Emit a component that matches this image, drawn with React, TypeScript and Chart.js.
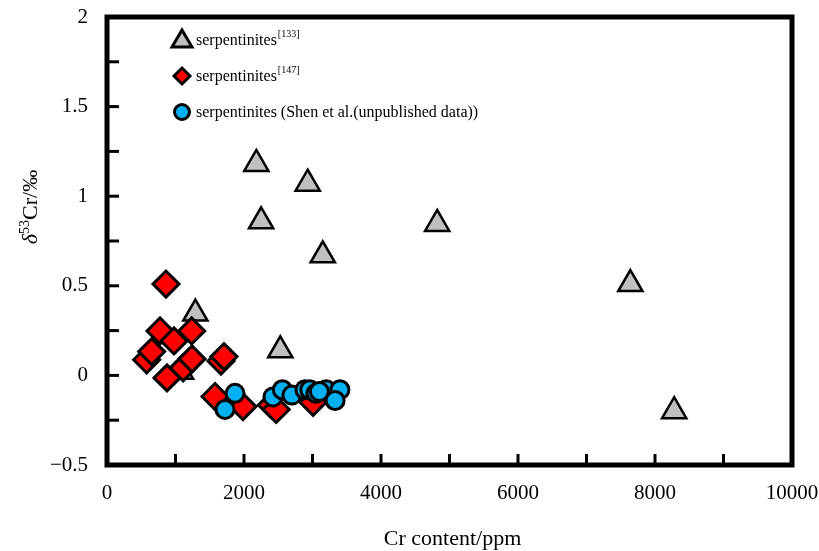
import React, { useEffect, useRef } from 'react';
import { Chart, registerables } from 'chart.js';

Chart.register(...registerables);

// ---- data ----
const triangleX = [1080, 2180, 2930, 2250, 3150, 4820, 7640, 8280, 2530, 1290];
const triangleY = [0.02, 1.18, 1.07, 0.86, 0.67, 0.845, 0.51, -0.2, 0.14, 0.345];

const diamondX = [861, 774, 1236, 978, 579, 652, 1112, 876, 1241, 1664, 1708, 1577, 1985, 2400, 2470, 3008];
const diamondY = [0.51, 0.248, 0.248, 0.192, 0.087, 0.133, 0.042, -0.014, 0.092, 0.08, 0.105, -0.118, -0.174, -0.165, -0.19, -0.15];

const circleX = [1869, 1723, 2423, 2560, 2700, 2890, 2960, 3050, 3200, 3400, 3330, 3100];
const circleY = [-0.1, -0.19, -0.12, -0.08, -0.11, -0.08, -0.08, -0.1, -0.08, -0.08, -0.14, -0.09];

const xTickValues = [0, 2000, 4000, 6000, 8000, 10000];
const xTickLabels = ['0', '2000', '4000', '6000', '8000', '10000'];
const yTickValues = [-0.5, 0, 0.5, 1, 1.5, 2];
const yTickLabels = ['\u22120.5', '0', '0.5', '1', '1.5', '2'];

const legendLabels = ['serpentinites', 'serpentinites', 'serpentinites (Shen et al.(unpublished data))'];
const legendSups = ['[133]', '[147]', ''];

const xTitle = 'Cr content/ppm';

const FONT = '"Liberation Serif", "Times New Roman", serif';

const pts = (xs: number[], ys: number[]) => xs.map((x, i) => ({ x, y: ys[i] }));

const decorPlugin = {
  id: 'decor',
  afterDraw(chart: any) {
    const ctx = chart.ctx as CanvasRenderingContext2D;
    const a = chart.chartArea;
    const xs = chart.scales.x;
    const ys = chart.scales.y;
    ctx.save();
    ctx.strokeStyle = '#000';
    // inner ticks
    ctx.lineWidth = 3;
    ctx.lineCap = 'butt';
    xs.ticks.forEach((t: any) => {
      const px = xs.getPixelForValue(t.value);
      if (px <= a.left + 1 || px >= a.right - 1) return;
      ctx.beginPath();
      ctx.moveTo(px, a.bottom);
      ctx.lineTo(px, a.bottom - 11);
      ctx.stroke();
    });
    ys.ticks.forEach((t: any) => {
      const py = ys.getPixelForValue(t.value);
      if (py <= a.top + 1 || py >= a.bottom - 1) return;
      ctx.beginPath();
      ctx.moveTo(a.left, py);
      ctx.lineTo(a.left + 12, py);
      ctx.stroke();
    });
    // frame
    ctx.lineWidth = 5;
    ctx.lineJoin = 'miter';
    ctx.strokeRect(a.left, a.top, a.right - a.left, a.bottom - a.top);

    // x title
    ctx.fillStyle = '#000';
    ctx.font = `22px ${FONT}`;
    ctx.textAlign = 'center';
    ctx.textBaseline = 'alphabetic';
    ctx.fillText(xTitle, (a.left + a.right) / 2 + 3, 545);

    // y title (rotated)
    ctx.save();
    ctx.translate(37, 207);
    ctx.rotate(-Math.PI / 2);
    ctx.textAlign = 'left';
    const fDelta = `italic 22px ${FONT}`;
    const fSup = `14px ${FONT}`;
    const fMain = `22px ${FONT}`;
    ctx.font = fDelta;
    const w1 = ctx.measureText('\u03B4').width;
    ctx.font = fSup;
    const w2 = ctx.measureText('53').width;
    ctx.font = fMain;
    const w3 = ctx.measureText('Cr/\u2030').width;
    let sx = -(w1 + w2 + w3) / 2;
    ctx.font = fDelta;
    ctx.fillText('\u03B4', sx, 0);
    sx += w1;
    ctx.font = fSup;
    ctx.fillText('53', sx, -8);
    sx += w2;
    ctx.font = fMain;
    ctx.fillText('Cr/\u2030', sx, 0);
    ctx.restore();

    // legend
    const rows = [40, 76, 112];
    const mx = 182;
    ctx.lineWidth = 3;
    // triangle
    {
      const y = rows[0];
      ctx.beginPath();
      ctx.moveTo(mx, y - 10);
      ctx.lineTo(mx + 10, y + 7);
      ctx.lineTo(mx - 10, y + 7);
      ctx.closePath();
      ctx.fillStyle = '#c0c0c0';
      ctx.fill();
      ctx.stroke();
    }
    // diamond
    {
      const y = rows[1];
      ctx.beginPath();
      ctx.moveTo(mx, y - 8);
      ctx.lineTo(mx + 8, y);
      ctx.lineTo(mx, y + 8);
      ctx.lineTo(mx - 8, y);
      ctx.closePath();
      ctx.fillStyle = '#ff0000';
      ctx.fill();
      ctx.stroke();
    }
    // circle
    {
      const y = rows[2];
      ctx.beginPath();
      ctx.arc(mx, y, 7.5, 0, Math.PI * 2);
      ctx.fillStyle = '#00b0f0';
      ctx.fill();
      ctx.stroke();
    }
    ctx.fillStyle = '#000';
    ctx.textAlign = 'left';
    ctx.textBaseline = 'alphabetic';
    legendLabels.forEach((lab, i) => {
      const base = rows[i] + 5;
      ctx.font = `16px ${FONT}`;
      ctx.fillText(lab, 196, base);
      const w = ctx.measureText(lab).width;
      if (legendSups[i]) {
        ctx.font = `10px ${FONT}`;
        ctx.fillText(legendSups[i], 196 + w + 1, base - 8);
      }
    });
    ctx.restore();
  },
};

export default function App() {
  const ref = useRef<HTMLCanvasElement | null>(null);
  useEffect(() => {
    if (!ref.current) return;
    const chart = new Chart(ref.current, {
      type: 'scatter',
      data: {
        datasets: [
          {
            label: 'serpentinites (Shen et al.(unpublished data))',
            data: pts(circleX, circleY),
            pointStyle: 'circle',
            pointRadius: 9,
            pointBackgroundColor: '#00b0f0',
            pointBorderColor: '#000',
            pointBorderWidth: 3,
            order: 1,
          },
          {
            label: 'serpentinites[147]',
            data: pts(diamondX, diamondY),
            pointStyle: 'rectRot',
            pointRadius: 13,
            pointBackgroundColor: '#ff0000',
            pointBorderColor: '#000',
            pointBorderWidth: 3,
            order: 2,
          },
          {
            label: 'serpentinites[133]',
            data: pts(triangleX, triangleY),
            pointStyle: 'triangle',
            pointRadius: 14,
            pointBackgroundColor: '#c0c0c0',
            pointBorderColor: '#000',
            pointBorderWidth: 2.5,
            order: 3,
          },
        ],
      },
      options: {
        animation: false,
        responsive: false,
        devicePixelRatio: 1,
        layout: { padding: { left: 0, top: 17, right: 27, bottom: 0 } },
        plugins: { legend: { display: false }, tooltip: { enabled: false } },
        scales: {
          x: {
            type: 'linear',
            min: 0,
            max: 10000,
            grid: { display: false, drawTicks: false },
            border: { display: false },
            ticks: {
              stepSize: 1000,
              autoSkip: false,
              maxRotation: 0,
              padding: 16,
              color: '#000',
              font: { family: FONT, size: 21 },
              callback: (v: any) => {
                const i = xTickValues.indexOf(Number(v));
                return i >= 0 ? xTickLabels[i] : '';
              },
            },
            afterFit: (s: any) => {
              s.height = 86;
              s.paddingLeft = 0;
              s.paddingRight = 0;
            },
          },
          y: {
            type: 'linear',
            min: -0.5,
            max: 2,
            grid: { display: false, drawTicks: false },
            border: { display: false },
            ticks: {
              stepSize: 0.25,
              autoSkip: false,
              padding: 19,
              color: '#000',
              font: { family: FONT, size: 21 },
              callback: (v: any) => {
                const n = Math.round(Number(v) * 100) / 100;
                const i = yTickValues.indexOf(n);
                return i >= 0 ? yTickLabels[i] : '';
              },
            },
            afterFit: (s: any) => {
              s.width = 107;
              s.paddingTop = 0;
              s.paddingBottom = 0;
            },
          },
        },
      },
      plugins: [decorPlugin],
    });
    return () => chart.destroy();
  }, []);
  return (
    <div style={{ position: 'fixed', left: 0, top: 0, width: 819, height: 551, background: '#fff' }}>
      <canvas ref={ref} width={819} height={551} style={{ width: 819, height: 551, display: 'block' }} />
    </div>
  );
}
